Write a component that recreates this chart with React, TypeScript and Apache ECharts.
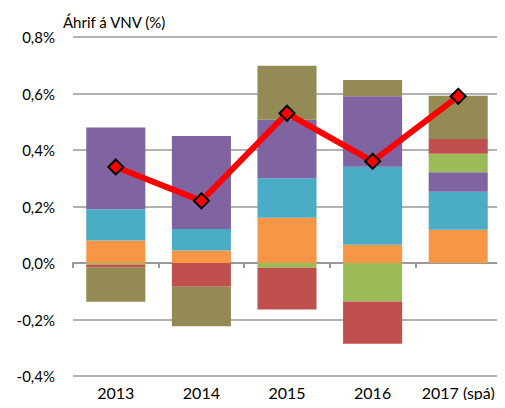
import React, { useEffect, useRef } from "react";
import * as echarts from "echarts";

const categories = ["2013", "2014", "2015", "2016", "2017 (spá)"];
const orange = [0.08, 0.044, 0.16, 0.065, 0.118];
const teal = [0.11, 0.076, 0.14, 0.276, 0.134];
const purple = [0.29, 0.33, 0.207, 0.249, 0.069];
const green = [-0.005, 0, -0.017, -0.136, 0.066];
const red = [-0.01, -0.084, -0.148, -0.15, 0.052];
const olive = [-0.122, -0.14, 0.191, 0.058, 0.153];
const total = [0.34, 0.22, 0.53, 0.36, 0.59];
const yTicks = { min: -0.4, max: 0.8, interval: 0.2 };
const axisTitle = "Áhrif á VNV (%)";

const FONT = "Lato, 'Open Sans', sans-serif";

export default function App() {
  const ref = useRef<HTMLDivElement>(null);
  useEffect(() => {
    if (!ref.current) return;
    const chart = echarts.init(ref.current, undefined, { renderer: "svg" });
    const bar = (name: string, data: number[], color: string) => ({
      name,
      type: "bar",
      stack: "s",
      data,
      barWidth: "69%",
      itemStyle: { color },
    });
    chart.setOption({
      animation: false,
      textStyle: { fontFamily: FONT },
      grid: { left: 73, right: 4, top: 37, bottom: 32, containLabel: false },
      graphic: [
        {
          type: "text",
          left: 63,
          top: 14,
          style: { text: axisTitle, fontSize: 15, fontFamily: FONT, fill: "#000" },
        },
      ],
      xAxis: {
        type: "category",
        data: categories,
        axisLine: { show: true, onZero: true, lineStyle: { color: "#999", width: 2 } },
        axisTick: { show: true, length: 5, lineStyle: { color: "#999", width: 2 } },
        axisLabel: {
          color: "#000",
          fontSize: 16,
          fontFamily: FONT,
          margin: 8,
          interval: 0,
        },
        position: "bottom",
      },
      yAxis: {
        type: "value",
        min: yTicks.min,
        max: yTicks.max,
        interval: yTicks.interval,
        axisLine: { show: false },
        axisTick: { show: false },
        splitLine: { lineStyle: { color: "#999", width: 1.5 } },
        axisLabel: {
          color: "#000",
          fontSize: 15,
          fontFamily: FONT,
          margin: 18,
          formatter: (v: number) => v.toFixed(1).replace(".", ",") + "%",
        },
      },
      series: [
        bar("orange", orange, "#F79646"),
        bar("teal", teal, "#4BACC6"),
        bar("purple", purple, "#8064A2"),
        bar("green", green, "#9BBB59"),
        bar("red", red, "#C0504D"),
        bar("olive", olive, "#948A54"),
        {
          name: "total",
          type: "line",
          data: total,
          symbol: "diamond",
          symbolSize: 15,
          lineStyle: { color: "#FF0000", width: 6 },
          itemStyle: { color: "#FF0000", borderColor: "#000", borderWidth: 2 },
          z: 5,
        },
      ],
    });
    return () => chart.dispose();
  }, []);
  return <div ref={ref} style={{ width: 505, height: 408, margin: -8 }} />;
}
